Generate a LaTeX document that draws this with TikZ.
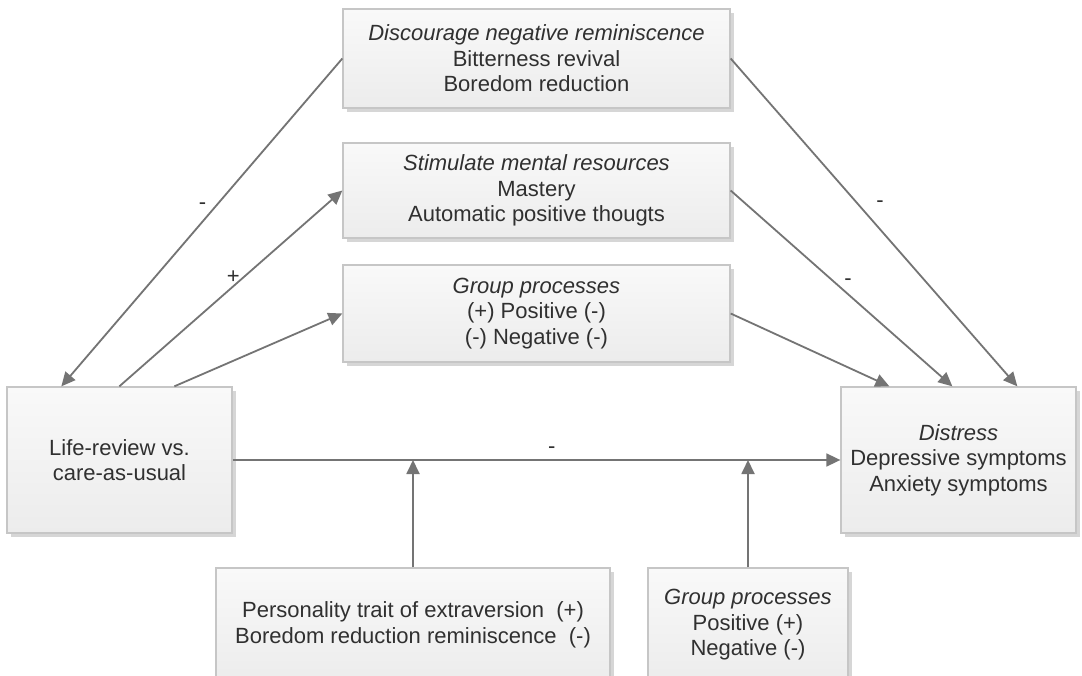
\documentclass[tikz,border=0pt]{standalone}
\usepackage{fontspec}
\setmainfont{Liberation Sans}
\usetikzlibrary{arrows.meta,shadows}

\definecolor{boxline}{HTML}{C6C6C6}
\definecolor{boxtop}{HTML}{F9F9F9}
\definecolor{boxbot}{HTML}{ECECEC}
\definecolor{shadowc}{HTML}{D6D6D6}
\definecolor{linkc}{HTML}{747474}
\definecolor{textc}{HTML}{303030}

\begin{document}
\begin{tikzpicture}[x=1pt,y=-1pt,
  box/.style={draw=boxline, line width=1.3pt, top color=boxtop, bottom color=boxbot,
    drop shadow={shadow xshift=3.5pt, shadow yshift=-4pt, fill=shadowc, opacity=1},
    inner sep=0pt, align=center, text=textc,
    font=\fontsize{22}{25.5}\selectfont},
  link/.style={draw=linkc, line width=1.8pt, -{Triangle[length=14pt,width=13pt]}},
  sign/.style={text=textc, inner sep=0pt, font=\fontsize{22}{25}\selectfont}]

% canvas
\clip (0,0) rectangle (1082,676);
\fill[white] (0,0) rectangle (1082,676);

% mediator boxes
\node[box, minimum width=387pt, minimum height=99pt] (neg) at (536.5,58.5)
  {\textit{Discourage negative reminiscence}\\Bitterness revival\\Boredom reduction};
\node[box, minimum width=387pt, minimum height=95pt] (stim) at (536.5,190.5)
  {\textit{Stimulate mental resources}\\Mastery\\Automatic positive thougts};
\node[box, minimum width=387pt, minimum height=97pt] (grp) at (536.5,313.5)
  {\textit{Group processes}\\(+) Positive (-)\\(-) Negative (-)};

% condition and outcome
\node[box, minimum width=225pt, minimum height=146pt] (life) at (119.5,460)
  {Life-review vs.\\care-as-usual};
\node[box, minimum width=235pt, minimum height=146pt] (dist) at (958.5,460)
  {\textit{Distress}\\Depressive symptoms\\Anxiety symptoms};

% moderator boxes
\node[box, minimum width=394pt, minimum height=114pt] (pers) at (413,625)
  {Personality trait of extraversion~~(+)\\Boredom reduction reminiscence~~(-)};
\node[box, minimum width=200pt, minimum height=114pt] (grp2) at (748,625)
  {\textit{Group processes}\\Positive (+)\\Negative (-)};

% paths from the condition to the mediators
\draw[link] (neg.west) -- ([xshift=55pt]life.north west)
  node[sign, pos=0.467, xshift=-8.7pt, yshift=5.7pt] {-};
\draw[link] ([xshift=113pt]life.north west) -- (stim.west)
  node[sign, pos=0.533, xshift=-5pt, yshift=5pt] {+};
\draw[link] ([xshift=168pt]life.north west) -- (grp.west);

% paths from the mediators to the outcome
\draw[link] (neg.east) -- ([xshift=177pt]dist.north west)
  node[sign, pos=0.477, xshift=12.6pt, yshift=11pt] {-};
\draw[link] (stim.east) -- ([xshift=112pt]dist.north west)
  node[sign, pos=0.502, xshift=6pt, yshift=7pt] {-};
\draw[link] (grp.east) -- ([xshift=49pt]dist.north west);

% direct effect
\draw[link] (life.east) -- (dist.west)
  node[sign, pos=0.525, yshift=10pt] {-};

% moderation
\draw[link] (pers.north) -- (pers.north |- life.east);
\draw[link] (grp2.north) -- (grp2.north |- life.east);

\end{tikzpicture}
\end{document}
